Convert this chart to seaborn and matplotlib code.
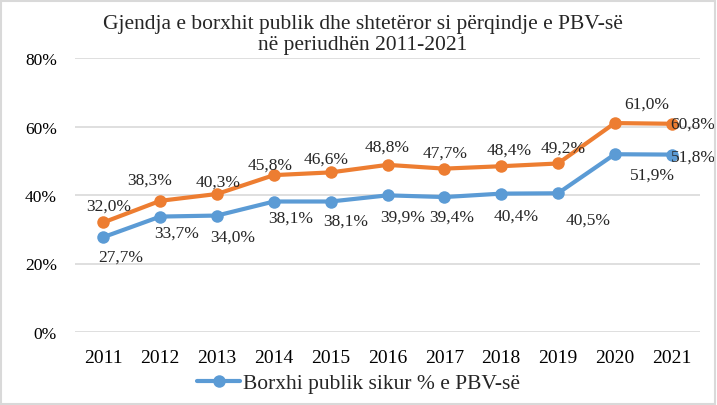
import pandas as pd
import numpy as np
import seaborn as sns
import matplotlib.pyplot as plt
from matplotlib.patches import Rectangle

# Data
years = [2011, 2012, 2013, 2014, 2015, 2016, 2017, 2018, 2019, 2020, 2021]
borxhi_publik = [27.7, 33.7, 34.0, 38.1, 38.1, 39.9, 39.4, 40.4, 40.5, 51.9, 51.8]
borxhi_shteteror = [32.0, 38.3, 40.3, 45.8, 46.6, 48.8, 47.7, 48.4, 49.2, 61.0, 60.8]
yticks = [0, 20, 40, 60, 80]

title = "Gjendja e borxhit publik dhe shtetëror si përqindje e PBV-së\nnë periudhën 2011-2021"
label_publik = "Borxhi publik sikur % e PBV-së"
label_shteteror = "Borxhi shtetëror sikur % e PBV-së"

# label offsets in pixels (dx, dy) - tuned by eye
off_shteteror = [(5, 17), (-11, 21), (1, 12), (-4, 10), (-5, 14), (0, 18),
                 (1, 16), (8, 17), (5, 16), (32, 19), (21, 0)]
off_publik = [(17, -20), (16, -16), (16, -21), (17, -16), (15, -19), (15, -21),
              (7, -20), (15, -22), (30, -26), (38, -20), (22, -2)]

df = pd.DataFrame({'Viti': years * 2,
                   'Vlera': borxhi_publik + borxhi_shteteror,
                   'Seria': [label_publik] * len(years) + [label_shteteror] * len(years)})

blue = '#5B9BD5'
orange = '#ED7D31'

sns.set_style('white')
plt.rcParams['font.family'] = ['Liberation Serif', 'DejaVu Serif']

fig = plt.figure(figsize=(7.17, 4.06), dpi=100)
ax = fig.add_axes([75 / 717, 1 - 333 / 406, 625 / 717, 274 / 406])

sns.lineplot(data=df, x='Viti', y='Vlera', hue='Seria',
             palette={label_publik: blue, label_shteteror: orange},
             marker='o', markersize=9, markeredgewidth=0, linewidth=3,
             ax=ax, legend=False)

ax.set_xlim(years[0] - 0.5, years[-1] + 0.5)
ax.set_ylim(0, 80)
ax.set_yticks(yticks)
ax.set_yticklabels([f"{t}%" for t in yticks])
ax.set_xticks(years)
ax.set_xlabel(None)
ax.set_ylabel(None)
ax.grid(axis='y', color='#D9D9D9', linewidth=1.2)
ax.set_axisbelow(True)
for s in ax.spines.values():
    s.set_visible(False)
ax.tick_params(axis='both', length=0, colors='black')
ax.tick_params(axis='y', pad=13, labelsize=12.5)
ax.tick_params(axis='x', pad=12, labelsize=14)

def fmt(v):
    return f"{v:.1f}%".replace('.', ',')

for x, v, (dx, dy) in zip(years, borxhi_shteteror, off_shteteror):
    ax.annotate(fmt(v), (x, v), xytext=(dx * 0.72, dy * 0.72), textcoords='offset points',
                ha='center', va='center', fontsize=12.5)
for x, v, (dx, dy) in zip(years, borxhi_publik, off_publik):
    ax.annotate(fmt(v), (x, v), xytext=(dx * 0.72, dy * 0.72), textcoords='offset points',
                ha='center', va='center', fontsize=12.5)

fig.text(0.506, 1 - 35 / 406, title, ha='center', va='center', fontsize=15.5,
         linespacing=1.2)

h, = ax.plot([], [], color=blue, marker='o', markersize=9, markeredgewidth=0, linewidth=3)
fig.legend([h], [label_publik], loc='center', bbox_to_anchor=(0.5, 1 - 384 / 406),
           frameon=False, fontsize=15.5, handlelength=2.0, handletextpad=0.1)

fig.add_artist(Rectangle((0.002, 0.003), 0.995, 0.993, transform=fig.transFigure,
                         fill=False, edgecolor='#D9D9D9', linewidth=1.5))

plt.savefig('out.png', dpi=100)
